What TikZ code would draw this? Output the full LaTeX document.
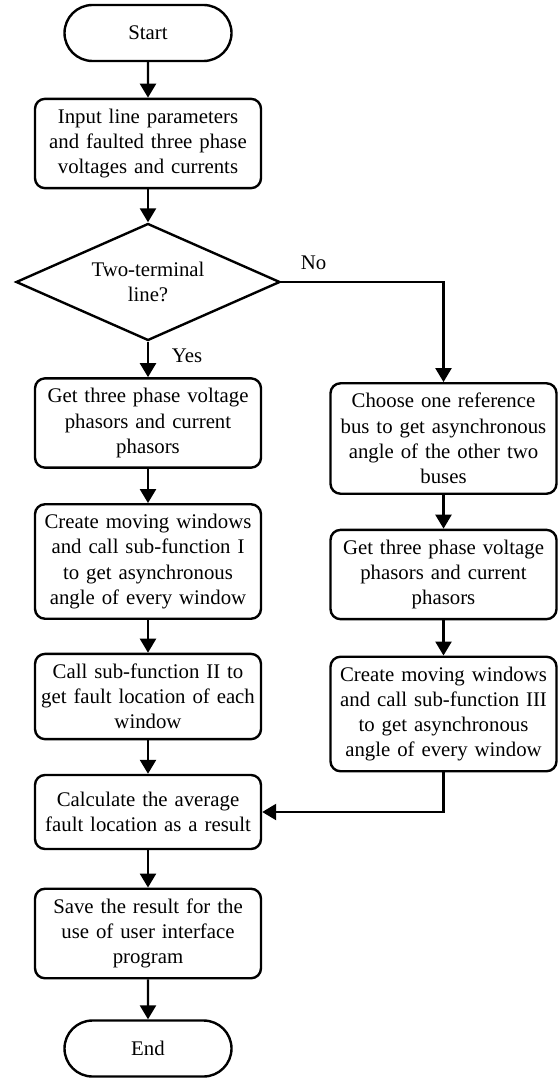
\documentclass[tikz,border=0pt]{standalone}
\usepackage{fontspec}
\setmainfont{Liberation Serif}
\usetikzlibrary{shapes.geometric,shapes.misc,arrows.meta}
\begin{document}
\begin{tikzpicture}[x=0.5pt,y=-0.5pt,font=\fontsize{10.4}{12.6}\selectfont]
	\tikzstyle{terminal}=[rounded rectangle,draw=black,line width=1.2pt,minimum width=83.5pt,minimum height=28pt,inner sep=0pt]
	\tikzstyle{process}=[rectangle,rounded corners=5pt,draw=black,line width=1.2pt,align=center,text width=110pt,inner xsep=1.5pt,inner ysep=5pt]
	\tikzstyle{decision}=[diamond,draw=black,line width=1.2pt,align=center,minimum width=132pt,minimum height=58.5pt,inner sep=0pt,aspect=2.25]
	\tikzstyle{edge}=[draw,line width=1.2pt,-{Triangle[length=7pt,width=8pt]}]
	\useasboundingbox (0,0) rectangle (559,1080);
	% main column
	\node [terminal] (start) at (148,33) {Start};
	\node [process] (input) at (148,143.5) {Input line parameters\\and faulted three phase\\voltages and currents};
	\node [decision] (two) at (148,282) {Two-terminal\\line?};
	\node [process] (phasorL) at (148,423) {Get three phase voltage\\phasors and current\\phasors};
	\node [process] (windowL) at (148,561.5) {Create moving windows\\and call sub-function I\\to get asynchronous\\angle of every window};
	\node [process] (locate) at (148,696.5) {Call sub-function II to\\get fault location of each\\window};
	\node [process,minimum height=37pt] (average) at (148,812) {Calculate the average\\fault location as a result};
	\node [process] (save) at (148,933.5) {Save the result for the\\use of user interface\\program};
	\node [terminal] (end) at (148,1048.5) {End};
	% three-terminal column
	\node [process] (refbus) at (443.5,438.5) {Choose one reference\\bus to get asynchronous\\angle of the other two\\buses};
	\node [process] (phasorR) at (443.5,574.5) {Get three phase voltage\\phasors and current\\phasors};
	\node [process] (windowR) at (443.5,714) {Create moving windows\\and call sub-function III\\to get asynchronous\\angle of every window};
	% connectors
	\path[edge] (start) -- (input);
	\path[edge] (input) -- (two);
	\path[edge] (two.south) -- node[right,xshift=8pt,yshift=2pt] {Yes} (phasorL);
	\path[edge] (two.east) -| node[pos=0.1,above,yshift=2pt] {No} (refbus.north);
	\path[edge] (phasorL) -- (windowL);
	\path[edge] (windowL) -- (locate);
	\path[edge] (locate) -- (average);
	\path[edge] (average) -- (save);
	\path[edge] (save) -- (end);
	\path[edge] (refbus) -- (phasorR);
	\path[edge] (phasorR) -- (windowR);
	\path[edge] (windowR.south) |- (average.east);
\end{tikzpicture}
\end{document}
